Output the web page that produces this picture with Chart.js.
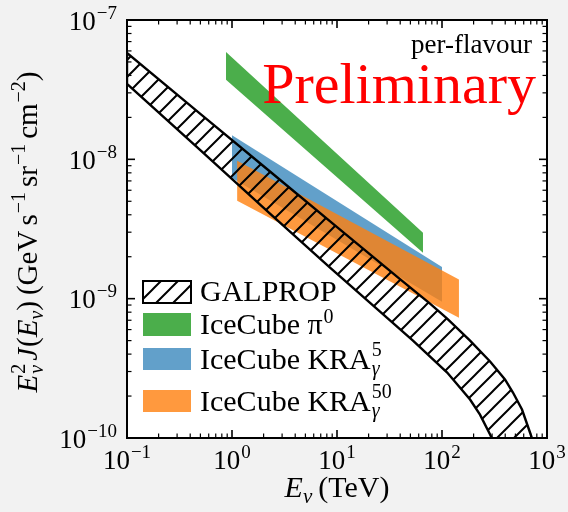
<!DOCTYPE html>
<html>
<head>
<meta charset="utf-8">
<script src="https://cdn.jsdelivr.net/npm/chart.js@4.4.1/dist/chart.umd.min.js"></script>
<style>
  html, body { margin: 0; padding: 0; background: #f2f2f2; }
  #wrap { width: 568px; height: 512px; }
</style>
</head>
<body>
<div id="wrap"><canvas id="fluxGraph" width="568" height="512"></canvas></div>
<script>
// energies in TeV, E^2 J in GeV s^-1 sr^-1 cm^-2
const xTickExp = [-1, 0, 1, 2, 3];
const yTickExp = [-10, -9, -8, -7];

const galpropUpperE = [0.1, 0.496, 2.30, 10.7, 39.8, 76.9, 112, 185, 287, 398, 474, 578, 689, 769];
const galpropUpperFlux = [5.80e-8, 2.13e-8, 8.18e-9, 3.13e-9, 1.38e-9, 9.21e-10, 7.19e-10, 5.00e-10, 3.54e-10, 2.63e-10, 2.12e-10, 1.60e-10, 1.095e-10, 8.55e-11];
const galpropLowerE = [0.1, 0.496, 2.30, 8.58, 25.7, 52.9, 112, 185, 230, 287, 334];
const galpropLowerFlux = [3.48e-8, 1.169e-8, 4.07e-9, 1.67e-9, 8.07e-10, 5.00e-10, 2.95e-10, 1.89e-10, 1.47e-10, 1.06e-10, 8.27e-11];

const pi0E = [0.877, 65.9];
const pi0Upper = [5.90e-8, 2.97e-9];
const pi0Lower = [3.72e-8, 2.14e-9];

const kra5E = [1.0, 100];
const kra5Upper = [1.49e-8, 1.69e-9];
const kra5Lower = [7.36e-9, 9.5e-10];

const kra50E = [1.12, 145];
const kra50Upper = [9.75e-9, 1.37e-9];
const kra50Lower = [5.04e-9, 7.31e-10];

const GREEN = 'rgba(44,160,44,0.85)';
const BLUE = 'rgba(31,119,180,0.7)';
const ORANGE = 'rgba(255,127,14,0.8)';
const SERIF = '"Liberation Serif", "DejaVu Serif", serif';

// closed outline: upper edge left->right, lower edge back right->left
function band(upE, upF, loE, loF) {
    const pts = upE.map((e, i) => ({x: e, y: upF[i]}));
    for (let i = loE.length - 1; i >= 0; i--) pts.push({x: loE[i], y: loF[i]});
    pts.push(pts[0]);
    return pts;
}

const canvas = document.getElementById('fluxGraph');
const ctx = canvas.getContext('2d');

function makeHatch() {
    const c = document.createElement('canvas');
    c.width = 17; c.height = 17;
    const g = c.getContext('2d');
    g.strokeStyle = '#000';
    g.lineWidth = 2;
    g.beginPath();
    g.moveTo(-2, 19); g.lineTo(19, -2);
    g.moveTo(-2, 2); g.lineTo(2, -2);
    g.moveTo(15, 19); g.lineTo(19, 15);
    g.stroke();
    return ctx.createPattern(c, 'repeat');
}
const hatch = makeHatch();

function font(size, italic) {
    return (italic ? 'italic ' : '') + size + 'px ' + SERIF;
}

// parts: {t, s, i, dy, g, stack}; stack draws at the x of the previous part
function drawRich(c, parts, x0, y0, align) {
    let x = 0, prevX = 0, prevW = 0;
    const items = [];
    for (const p of parts) {
        c.font = font(p.s, p.i);
        const w = c.measureText(p.t).width;
        if (p.stack) {
            items.push({p, x: prevX});
            prevW = Math.max(prevW, w);
            x = prevX + prevW + (p.g || 0);
        } else {
            x += (p.pre || 0);
            items.push({p, x});
            prevX = x; prevW = w;
            x += w + (p.g || 0);
        }
    }
    let start = x0;
    if (align === 'center') start -= x / 2;
    else if (align === 'right') start -= x;
    c.textAlign = 'left';
    c.textBaseline = 'alphabetic';
    for (const it of items) {
        c.font = font(it.p.s, it.p.i);
        c.fillText(it.p.t, start + it.x, y0 + (it.p.dy || 0));
    }
    return x;
}

function pow10(d) {
    return [{t: '10', s: 27}, {t: '\u2212'.repeat(d < 0 ? 1 : 0) + Math.abs(d), s: 19, dy: -11, pre: 1}];
}

const axesPlugin = {
    id: 'axesPlugin',
    beforeDraw(chart) {
        const {ctx: c, chartArea: a} = chart;
        c.save();
        c.fillStyle = '#ffffff';
        c.fillRect(a.left, a.top, a.right - a.left, a.bottom - a.top);
        c.restore();
    },
    afterDraw(chart) {
        const {ctx: c, chartArea: a, scales: {x, y}} = chart;
        c.save();
        c.strokeStyle = '#000';
        c.fillStyle = '#000';

        const seg = (x1, y1, x2, y2) => { c.beginPath(); c.moveTo(x1, y1); c.lineTo(x2, y2); c.stroke(); };

        // inward ticks on all four sides
        for (let k = 0; k < xTickExp.length; k++) {
            const d = xTickExp[k];
            for (let m = 1; m <= 9; m++) {
                if (k === xTickExp.length - 1 && m > 1) break;
                const px = x.getPixelForValue(m * Math.pow(10, d));
                const len = m === 1 ? 8 : 4.5;
                c.lineWidth = m === 1 ? 1.6 : 1.2;
                seg(px, a.bottom, px, a.bottom - len);
                seg(px, a.top, px, a.top + len);
            }
        }
        for (let k = 0; k < yTickExp.length; k++) {
            const d = yTickExp[k];
            for (let m = 1; m <= 9; m++) {
                if (k === yTickExp.length - 1 && m > 1) break;
                const py = y.getPixelForValue(m * Math.pow(10, d));
                const len = m === 1 ? 8 : 4.5;
                c.lineWidth = m === 1 ? 1.6 : 1.2;
                seg(a.left, py, a.left + len, py);
                seg(a.right, py, a.right - len, py);
            }
        }

        c.lineWidth = 2;
        c.strokeRect(a.left, a.top, a.right - a.left, a.bottom - a.top);

        // tick labels
        xTickExp.forEach(d => drawRich(c, pow10(d), x.getPixelForValue(Math.pow(10, d)), a.bottom + 31, 'center'));
        yTickExp.forEach(d => drawRich(c, pow10(d), a.left - 10, y.getPixelForValue(Math.pow(10, d)) + 9.5, 'right'));

        // axis titles
        drawRich(c, [
            {t: 'E', s: 30, i: true},
            {t: '\u03bd', s: 21, i: true, dy: 6, g: 6},
            {t: '(TeV)', s: 30}
        ], (a.left + a.right) / 2, 497, 'center');

        c.save();
        c.translate(37, (a.top + a.bottom) / 2 + 3);
        c.rotate(-Math.PI / 2);
        drawRich(c, [
            {t: 'E', s: 29, i: true},
            {t: '2', s: 20, dy: -12, pre: 1},
            {t: '\u03bd', s: 20, i: true, dy: 6, stack: true, g: 3},
            {t: 'J', s: 29, i: true, g: 1},
            {t: '(', s: 29},
            {t: 'E', s: 29, i: true},
            {t: '\u03bd', s: 20, i: true, dy: 6},
            {t: ')', s: 29, g: 6},
            {t: '(GeV', s: 29, g: 5},
            {t: 's', s: 29},
            {t: '\u22121', s: 20, dy: -12, pre: 1, g: 5},
            {t: 'sr', s: 29},
            {t: '\u22121', s: 20, dy: -12, pre: 1, g: 5},
            {t: 'cm', s: 29},
            {t: '\u22122', s: 20, dy: -12, pre: 1},
            {t: ')', s: 29}
        ], 0, 0, 'center');
        c.restore();

        // annotations
        c.font = font(27, false);
        c.textAlign = 'right';
        c.fillText('per-flavour', 532, 53);
        c.fillStyle = '#ff0000';
        c.font = font(58, false);
        c.fillText('Preliminary', 536, 103);

        // legend
        c.fillStyle = '#000';
        const lx = 143, lw = 48, tx = 200;
        c.save();
        c.fillStyle = hatch;
        c.fillRect(lx, 281, lw, 22);
        c.restore();
        c.lineWidth = 2;
        c.strokeRect(lx, 281, lw, 22);
        c.fillStyle = GREEN; c.fillRect(lx, 313, lw, 23);
        c.fillStyle = BLUE; c.fillRect(lx, 348, lw, 22);
        c.fillStyle = ORANGE; c.fillRect(lx, 390, lw, 22);

        c.fillStyle = '#000';
        drawRich(c, [{t: 'GALPROP', s: 30}], tx, 301, 'left');
        drawRich(c, [{t: 'IceCube \u03c0', s: 30}, {t: '0', s: 20, dy: -11, pre: 1}], tx, 334, 'left');
        drawRich(c, [{t: 'IceCube KRA', s: 30}, {t: '5', s: 20, dy: -13, pre: 1},
            {t: '\u03b3', s: 20, i: true, dy: 6, stack: true}], tx, 369, 'left');
        drawRich(c, [{t: 'IceCube KRA', s: 30}, {t: '50', s: 20, dy: -13, pre: 1},
            {t: '\u03b3', s: 20, i: true, dy: 6, stack: true}], tx, 411, 'left');
        c.restore();
    }
};

new Chart(canvas, {
    type: 'scatter',
    data: {
        datasets: [
            {
                label: 'GALPROP',
                data: band(galpropUpperE, galpropUpperFlux, galpropLowerE, galpropLowerFlux),
                showLine: true,
                fill: 'shape',
                backgroundColor: hatch,
                borderColor: '#000',
                borderWidth: 2.4,
                pointRadius: 0,
                clip: 0
            },
            {
                label: 'IceCube KRA50',
                data: band(kra50E, kra50Upper, kra50E, kra50Lower),
                showLine: true,
                fill: 'shape',
                backgroundColor: ORANGE,
                borderWidth: 0,
                pointRadius: 0,
                clip: 0
            },
            {
                label: 'IceCube KRA5',
                data: band(kra5E, kra5Upper, kra5E, kra5Lower),
                showLine: true,
                fill: 'shape',
                backgroundColor: BLUE,
                borderWidth: 0,
                pointRadius: 0,
                clip: 0
            },
            {
                label: 'IceCube pi0',
                data: band(pi0E, pi0Upper, pi0E, pi0Lower),
                showLine: true,
                fill: 'shape',
                backgroundColor: GREEN,
                borderWidth: 0,
                pointRadius: 0,
                clip: 0
            }
        ]
    },
    options: {
        responsive: false,
        animation: false,
        devicePixelRatio: 1,
        layout: {
            padding: {left: 127, top: 20, right: 21, bottom: 74}
        },
        plugins: {
            legend: {display: false},
            tooltip: {enabled: false}
        },
        scales: {
            x: {type: 'logarithmic', min: 0.1, max: 1000, display: false},
            y: {type: 'logarithmic', min: 1e-10, max: 1e-7, display: false}
        }
    },
    plugins: [axesPlugin]
});
</script>
</body>
</html>
